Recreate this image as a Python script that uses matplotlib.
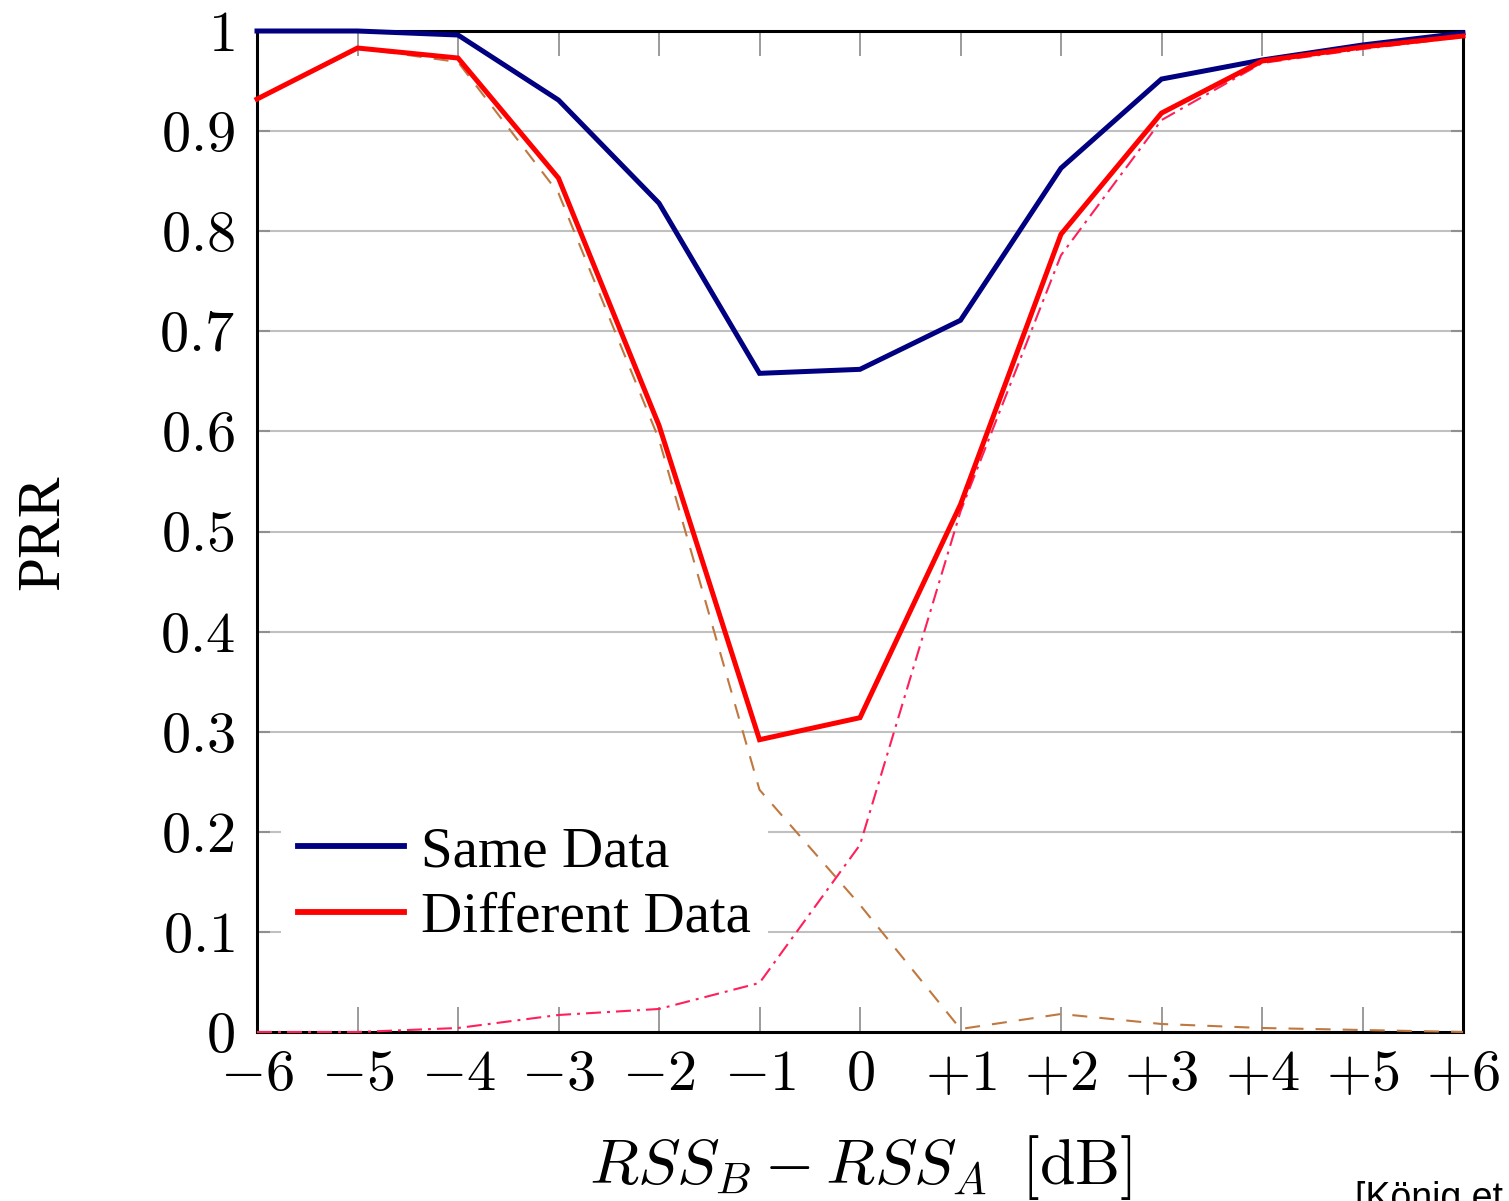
import matplotlib
matplotlib.use("Agg")
import matplotlib.pyplot as plt
from matplotlib.lines import Line2D

plt.rcParams['mathtext.fontset'] = 'cm'
plt.rcParams['font.family'] = ['Liberation Serif', 'DejaVu Serif']

# ---- data ----
x = [-6, -5, -4, -3, -2, -1, 0, 1, 2, 3, 4, 5, 6]
xtick_labels = ['$-6$', '$-5$', '$-4$', '$-3$', '$-2$', '$-1$', '$0$',
                '$+1$', '$+2$', '$+3$', '$+4$', '$+5$', '$+6$']
same_data = [1.0, 1.0, 0.996, 0.931, 0.828, 0.658, 0.662, 0.711, 0.863, 0.952, 0.971, 0.986, 0.998]
diff_data = [0.932, 0.983, 0.973, 0.853, 0.606, 0.292, 0.314, 0.527, 0.797, 0.918, 0.970, 0.984, 0.995]
diff_a = [0.932, 0.983, 0.969, 0.838, 0.592, 0.242, 0.127, 0.003, 0.018, 0.008, 0.004, 0.002, 0.0]
diff_b = [0.0, 0.0, 0.004, 0.017, 0.023, 0.049, 0.187, 0.520, 0.776, 0.911, 0.968, 0.982, 0.994]
yticks = [0, 0.1, 0.2, 0.3, 0.4, 0.5, 0.6, 0.7, 0.8, 0.9, 1.0]
ytick_labels = ['$0$', '$0.1$', '$0.2$', '$0.3$', '$0.4$', '$0.5$', '$0.6$', '$0.7$', '$0.8$', '$0.9$', '$1$']
legend_labels = ['Same Data', 'Different Data']

W, H = 1509, 1201
fig = plt.figure(figsize=(W / 100, H / 100), dpi=100)
ax = fig.add_axes([257 / W, 1 - 1032 / H, (1463 - 257) / W, (1032 - 31) / H])

ax.plot(x, diff_a, color='#bf7840', lw=1.5, linestyle=(0, (7.2, 5.8)), zorder=3.6, clip_on=False)
ax.plot(x, diff_b, color='#ff1f5a', lw=1.5, linestyle=(0, (7.2, 2.9, 1.4, 2.9)), zorder=3.7, clip_on=False)
l1, = ax.plot(x, same_data, color='#000080', lw=3.6, zorder=4, clip_on=False,
              solid_joinstyle='miter')
l2, = ax.plot(x, diff_data, color='#ff0000', lw=3.6, zorder=5, clip_on=False,
              solid_joinstyle='miter')

ax.set_xlim(-6, 6)
ax.set_ylim(0, 1)
ax.set_xticks(x)
ax.set_xticklabels(xtick_labels, fontsize=42)
ax.set_yticks(yticks)
ax.set_yticklabels(ytick_labels, fontsize=42)

ax.tick_params(axis='x', direction='in', length=18, width=1.1, color='#808080',
               top=True, bottom=True, pad=13)
ax.tick_params(axis='y', direction='in', length=9, width=1.5, color='#909090',
               left=True, right=True, pad=16)

for yv in yticks[1:-1]:
    ax.axhline(yv, color='#c0c0c0', lw=1.5, zorder=1)

for sp in ax.spines.values():
    sp.set_linewidth(2.2)
    sp.set_color('black')
    sp.set_zorder(3.5)

leg = ax.legend([l1, l2], legend_labels, loc='center left', bbox_to_anchor=(0.020, 0.147),
                fontsize=41, frameon=True, facecolor='white', edgecolor='none', framealpha=1,
                fancybox=False, borderpad=0.3, borderaxespad=0, handlelength=1.85,
                handletextpad=0.3, labelspacing=0.24)
leg.set_zorder(2)
for h in leg.legend_handles:
    h.set_linewidth(4.2)

fig.text(43 / W, 1 - 532 / H, 'PRR', rotation=90, ha='center', va='center', fontsize=44)
fig.text(860 / W, 1 - 1168 / H, r'$RSS_B - RSS_A\;\;\mathrm{[dB]}$', ha='center', va='center',
         fontsize=46)
fig.text(1355 / W, 1 - 1181 / H, '[König et', ha='left', va='top', fontsize=27,
         family=['Liberation Sans', 'DejaVu Sans'])

fig.savefig('out.png', dpi=100, facecolor='white')
